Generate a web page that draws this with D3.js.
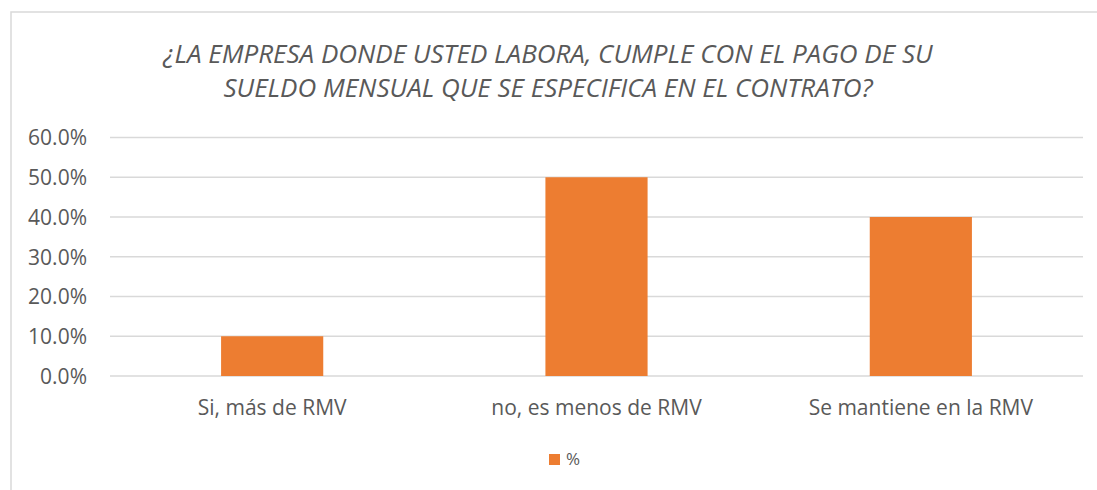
<!DOCTYPE html>
<html lang="es">
<head>
<meta charset="utf-8">
<script src="https://d3js.org/d3.v7.min.js"></script>
<style>
  body { margin: 0; background: #fff; }
  .axis text { fill: #595959; font-family: "Open Sans", sans-serif; font-size: 21px; }
  .axis path, .axis line { display: none; }
  .grid line { stroke: #d9d9d9; stroke-width: 1.5px; }
  .title { fill: #595959; font-family: "Open Sans", sans-serif; font-style: italic; font-size: 26px; }
  .legend text { fill: #595959; font-family: "Open Sans", sans-serif; font-size: 17px; }
</style>
</head>
<body>
<div id="chart"></div>
<script>
var categories = ["Si, más de RMV", "no, es menos de RMV", "Se mantiene en la RMV"];
var values = [0.10, 0.50, 0.40];
var yTicks = [0, 0.1, 0.2, 0.3, 0.4, 0.5, 0.6];
var seriesName = "%";
var titleLines = ["¿LA EMPRESA DONDE USTED LABORA, CUMPLE CON EL PAGO DE SU",
                  "SUELDO MENSUAL QUE SE ESPECIFICA EN EL CONTRATO?"];

var W = 1097, H = 490;
var margin = { top: 137.5, right: 14, bottom: 114, left: 110 };

var svg = d3.select("#chart").append("svg")
    .attr("width", W)
    .attr("height", H);

// chart border (right and bottom edges fall outside the picture)
svg.append("rect")
    .attr("x", 11).attr("y", 12)
    .attr("width", W + 10).attr("height", H + 10)
    .attr("fill", "none")
    .attr("stroke", "#d9d9d9")
    .attr("stroke-width", 1.5);

var x = d3.scaleBand()
    .domain(categories)
    .range([margin.left, W - margin.right])
    .paddingInner(0.685)
    .paddingOuter(0.3425);

var y = d3.scaleLinear()
    .domain([0, 0.6])
    .range([H - margin.bottom, margin.top]);

// gridlines
svg.append("g")
    .attr("class", "grid")
    .selectAll("line")
    .data(yTicks)
    .enter().append("line")
    .attr("x1", margin.left)
    .attr("x2", W - margin.right)
    .attr("y1", function(d) { return y(d); })
    .attr("y2", function(d) { return y(d); });

// y axis labels
svg.append("g")
    .attr("class", "axis axis--y")
    .attr("transform", "translate(" + (margin.left - 23) + ",0)")
    .call(d3.axisLeft(y).tickValues(yTicks).tickFormat(d3.format(".1%")).tickSize(0).tickPadding(0))
    .selectAll("text")
    .attr("dy", "0.35em");

// bars
svg.append("g")
    .selectAll("rect")
    .data(values)
    .enter().append("rect")
    .attr("x", function(d, i) { return x(categories[i]); })
    .attr("y", function(d) { return y(d); })
    .attr("width", x.bandwidth())
    .attr("height", function(d) { return y(0) - y(d); })
    .attr("fill", "#ed7d31");

// x axis labels
svg.append("g")
    .attr("class", "axis axis--x")
    .attr("transform", "translate(0," + y(0) + ")")
    .call(d3.axisBottom(x).tickSize(0).tickPadding(0))
    .selectAll("text")
    .attr("y", 39)
    .attr("dy", 0);

// title
svg.append("g")
    .selectAll("text")
    .data(titleLines)
    .enter().append("text")
    .attr("class", "title")
    .attr("x", 548)
    .attr("y", function(d, i) { return 63 + i * 34; })
    .attr("text-anchor", "middle")
    .text(function(d) { return d; });

// legend
var legend = svg.append("g")
    .attr("class", "legend")
    .attr("transform", "translate(549,454)");

legend.append("rect")
    .attr("width", 11)
    .attr("height", 11)
    .attr("fill", "#ed7d31");

legend.append("text")
    .attr("x", 17)
    .attr("y", 11)
    .text(seriesName);
</script>
</body>
</html>
